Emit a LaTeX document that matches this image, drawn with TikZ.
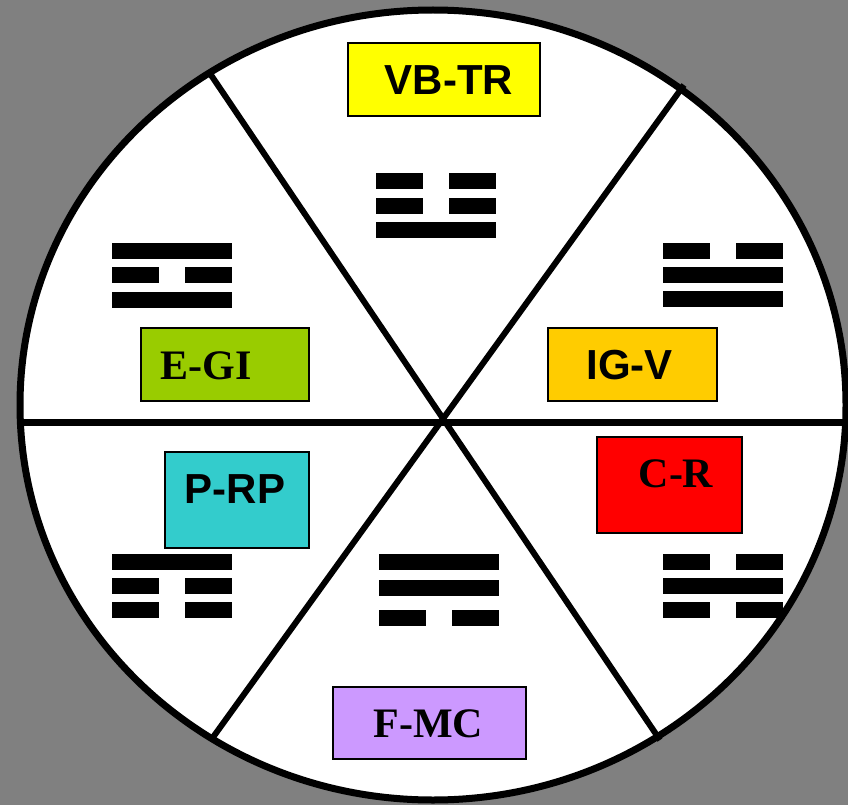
\documentclass[tikz,border=0pt]{standalone}
\usepackage{fontspec}
\setmainfont{Liberation Serif}
\setsansfont{Liberation Sans}
\definecolor{bggray}{HTML}{808080}
\definecolor{cyel}{HTML}{FFFF00}
\definecolor{cgrn}{HTML}{99CC00}
\definecolor{corg}{HTML}{FFCC00}
\definecolor{cred}{HTML}{FF0000}
\definecolor{ccyn}{HTML}{33CCCC}
\definecolor{clav}{HTML}{CC99FF}
\newcommand{\solidbar}[2]{\fill (#1,#2) rectangle ({#1+120},{#2+16});}
\newcommand{\brokenbar}[2]{\fill (#1,#2) rectangle ({#1+47},{#2+16});\fill ({#1+73},#2) rectangle ({#1+120},{#2+16});}
\begin{document}
\begin{tikzpicture}[x=1pt,y=-1pt,
  labelbox/.style={draw=black,line width=1.5pt,inner sep=0pt,rectangle},
  sanslbl/.style={inner sep=0pt,font=\fontsize{42}{50}\selectfont\sffamily\bfseries},
  seriflbl/.style={inner sep=0pt,font=\fontsize{42}{50}\selectfont\rmfamily\bfseries},
  rim/.style={line width=7pt},
  spoke/.style={line width=6pt}]
\useasboundingbox (0,0) rectangle (848,805);
\fill[bggray] (0,0) rectangle (848,805);
\begin{scope}
\clip (0,0) rectangle (848,805);
\fill[white] (433,405) ellipse [x radius=413, y radius=395];
% spokes
\coordinate (tl) at (211,75);
\coordinate (br) at (660,740);
\coordinate (tr) at (684,85);
\coordinate (bl) at (211,740);
\coordinate (hl) at (20,422);
\coordinate (hr) at (852,422);
\draw[spoke] (tl) -- (br);
\draw[spoke] (tr) -- (bl);
\draw[rim] (hl) -- (hr);
\draw[rim] (433,405) ellipse [x radius=413, y radius=395];
\end{scope}
% trigrams
% top: broken, broken, solid
\brokenbar{376}{173}\brokenbar{376}{198}\solidbar{376}{222}
% top-left: solid, broken, solid
\solidbar{112}{243}\brokenbar{112}{267}\solidbar{112}{292}
% top-right: broken, solid, solid
\brokenbar{663}{243}\solidbar{663}{267}\solidbar{663}{291}
% bottom-left: solid, broken, broken
\solidbar{112}{554}\brokenbar{112}{578}\brokenbar{112}{602}
% bottom-right: broken, solid, broken
\brokenbar{663}{554}\solidbar{663}{578}\brokenbar{663}{602}
% bottom: solid, solid, broken
\solidbar{379}{554}\solidbar{379}{580}\brokenbar{379}{610}
% label boxes
\node[labelbox,fill=cyel,minimum width=192pt,minimum height=73pt] (vbbox) at (444,79.5) {};
\node[sanslbl] (vbt) at (449,80) {VB-TR};
\node[labelbox,fill=cgrn,minimum width=168pt,minimum height=73pt] (egbox) at (225,364.5) {};
\node[seriflbl] (egt) at (206,366) {E-GI};
\node[labelbox,fill=corg,minimum width=169pt,minimum height=73pt] (igbox) at (632.5,364.5) {};
\node[sanslbl] (igt) at (629.5,365) {IG-V};
\node[labelbox,fill=cred,minimum width=145pt,minimum height=96pt] (crbox) at (669.5,485) {};
\node[seriflbl] (crt) at (676,474) {C-R};
\node[labelbox,fill=ccyn,minimum width=144pt,minimum height=96pt] (prbox) at (237,500) {};
\node[sanslbl] (prt) at (235,489) {P-RP};
\node[labelbox,fill=clav,minimum width=193pt,minimum height=72pt] (fmbox) at (429.5,723) {};
\node[seriflbl] (fmt) at (428.5,723.5) {F-MC};
\end{tikzpicture}
\end{document}
